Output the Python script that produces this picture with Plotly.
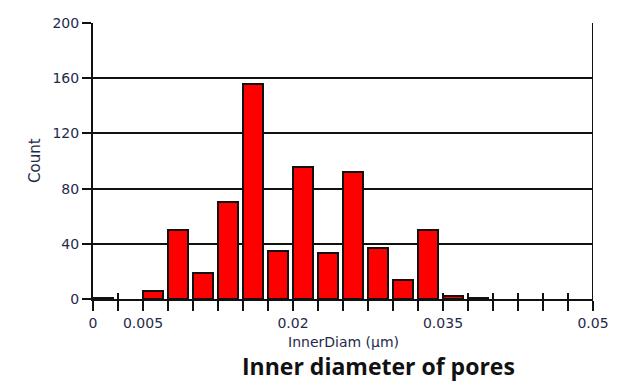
import plotly.graph_objects as go

# Histogram bins (left edges, µm) and counts (None = empty bin)
bin_left = [0.0, 0.0025, 0.005, 0.0075, 0.01, 0.0125, 0.015, 0.0175, 0.02, 0.0225,
            0.025, 0.0275, 0.03, 0.0325, 0.035, 0.0375]
counts = [1, None, 6, 50, 19, 70, 156, 35, 96, 33, 92, 37, 14, 50, 2, 1]

x_tick_vals = [0, 0.0025, 0.005, 0.0075, 0.01, 0.0125, 0.015, 0.0175, 0.02, 0.0225, 0.025,
               0.0275, 0.03, 0.0325, 0.035, 0.0375, 0.04, 0.0425, 0.045, 0.0475, 0.05]
x_tick_text = ["0", "", "0.005", "", "", "", "", "", "0.02", "", "", "", "", "",
               "0.035", "", "", "", "", "", "0.05"]
y_tick_vals = [0, 40, 80, 120, 160, 200]

TXT = "#1f2a4a"
FONT = "DejaVu Sans, Verdana, sans-serif"
tick_font = dict(family=FONT, size=14, color=TXT)

fig = go.Figure()
fig.add_trace(go.Bar(
    x=bin_left, y=counts, offset=0, width=0.002,
    marker=dict(color="#ff0000", line=dict(color="#111111", width=2)),
    showlegend=False, hoverinfo="x+y",
))
# invisible trace on an overlaid axis to draw inward tick marks
fig.add_trace(go.Scatter(x=[0, 0.05], y=[0, 0], xaxis="x2", mode="none",
                         showlegend=False, hoverinfo="skip"))

fig.update_layout(
    width=609, height=375,
    margin=dict(l=85, r=24, t=15, b=84, autoexpand=False),
    paper_bgcolor="white", plot_bgcolor="white",
    bargap=0,
    xaxis=dict(
        range=[0, 0.05], tickmode="array", tickvals=x_tick_vals, ticktext=x_tick_text,
        ticks="outside", ticklen=10, tickwidth=2, tickcolor="#111111",
        showline=True, linecolor="#111111", linewidth=2, automargin=False,
        showgrid=False, zeroline=False, tickfont=tick_font,
    ),
    xaxis2=dict(
        overlaying="x", range=[0, 0.05], tickmode="array", tickvals=x_tick_vals,
        showticklabels=False, ticks="inside", ticklen=6, tickwidth=2, tickcolor="#111111",
        showgrid=False, zeroline=False, showline=False, side="bottom", anchor="y",
        automargin=False,
    ),
    yaxis=dict(
        range=[0, 200], tickmode="array", tickvals=y_tick_vals,
        ticks="outside", ticklen=9, tickwidth=2, tickcolor="#111111",
        showline=True, linecolor="#111111", linewidth=2, automargin=False,
        showgrid=True, gridcolor="#111111", gridwidth=2, zeroline=False,
        tickfont=tick_font,
    ),
    shapes=[dict(type="line", xref="x", yref="paper", x0=0.05, x1=0.05, y0=0, y1=1,
                 line=dict(color="#111111", width=2))],
    annotations=[
        dict(text="InnerDiam (µm)", xref="paper", yref="paper", x=0.5, y=-0.157,
             xanchor="center", yanchor="middle", showarrow=False,
             font=dict(family=FONT, size=14, color=TXT)),
        dict(text="Count", xref="paper", yref="paper", x=-0.116, y=0.5, textangle=-90,
             xanchor="center", yanchor="middle", showarrow=False,
             font=dict(family=FONT, size=15, color=TXT)),
        dict(text="<b>Inner diameter of pores</b>", xref="paper", yref="paper",
             x=0.57, y=-0.3045, xanchor="center", yanchor="bottom", showarrow=False,
             borderpad=0,
             font=dict(family="Open Sans, sans-serif", size=23, color="#111111")),
    ],
)

fig.write_html("out.html")
